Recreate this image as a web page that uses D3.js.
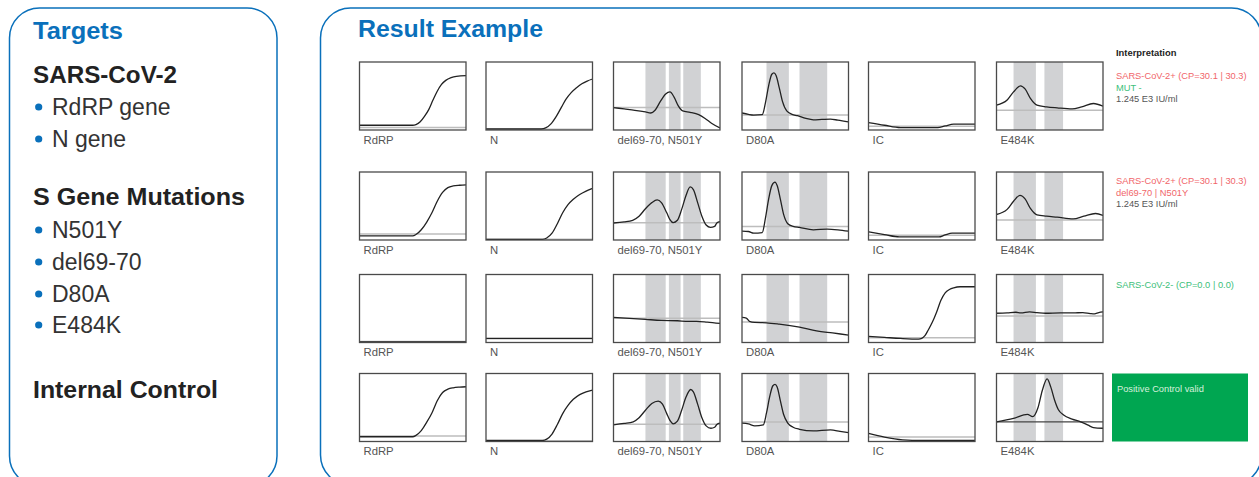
<!DOCTYPE html>
<html>
<head>
<meta charset="utf-8">
<script src="https://cdn.jsdelivr.net/npm/d3@7"></script>
<style>
  body { margin: 0; background: #fff; }
  svg { display: block; font-family: "Liberation Sans", Arial, sans-serif; }
</style>
</head>
<body>
<svg id="chart" width="1259" height="477"></svg>
<script>
// target names, one per column
const targets = ["RdRP", "N", "del69-70, N501Y", "D80A", "IC", "E484K"];

// curves per target, one per row: [x %, signal %]
const rdrpCurves = [
  [[0,7],[50,7],[53,8],[57,12],[61,20],[65,30],[69,44],[73,57],[77,67],[81,73],[86,77],[91,79],[100,80]],
  [[0,6],[50,6],[53,8],[58,15],[63,26],[68,40],[73,57],[78,70],[83,77],[88,79.5],[94,80.5],[100,81]],
  [[0,1],[100,1]],
  [[0,7],[50,7],[53,9],[58,16],[63,28],[68,42],[73,60],[78,72],[83,77],[88,79],[94,80],[100,80.5]]
];
const nCurves = [
  [[0,1.5],[52,1.5],[56,3],[61,9],[66,20],[71,34],[75,45],[80,55],[85,62],[90,68],[95,72],[100,75]],
  [[0,1],[53,1],[57,3],[62,10],[67,24],[72,40],[77,52],[82,60],[88,67],[94,72],[100,76]],
  [[0,6],[100,6]],
  [[0,1.5],[53,1.5],[57,3.5],[62,11],[67,25],[72,41],[77,53],[82,62],[88,69],[94,73],[100,75.5]]
];
const delCurves = [
  [[0,33],[10,31],[20,29],[30,26.5],[35,25],[39,29],[44,42],[49,53],[53,56],[57,48],[61,35],[65,28],[72,26],[80,22.5],[86,17],[92,10],[100,3]],
  [[0,25],[10,26.5],[18,29],[24,35],[30,46],[36,55],[41,59],[45,55],[50,40],[53,30],[56,25.5],[60,29],[64,45],[68,65],[72,78],[75,74],[79,55],[83,35],[87,22],[91,18.5],[95,20],[97,25],[100,27]],
  [[0,37],[15,35.5],[30,34],[45,32.5],[60,32],[70,31],[78,31.2],[88,30],[100,28]],
  [[0,24.5],[10,26.5],[18.5,29],[24,35],[30,46],[36,56],[42,59.5],[46,55],[50,41],[53,31],[56,26],[60,30],[64,46],[68,65],[72.5,76.5],[75,73],[79,55],[83,35],[87,23],[91.5,19.5],[95,21],[97,25],[100,27]]
];
const d80aCurves = [
  [[0,25],[6,23],[11,22],[19,22.5],[22,40],[25,65],[28,82],[30,84],[32,80],[35,62],[38,42],[42,28],[47,23],[52,21],[60,17],[67,15],[75,15.5],[83,16],[90,14.5],[100,12]],
  [[0,13],[6,12.5],[11,10],[19,11],[22,32],[25,60],[28,80],[31,85],[33,80],[36,60],[39,38],[43,24],[48,20],[54,18.5],[67,15],[80,16],[90,15],[100,13]],
  [[0,37],[4,36],[7,31],[12,29.5],[23,29],[35,27],[54,22.5],[70,17],[85,14],[100,11]],
  [[0,27],[6,26],[12,23],[20,24.5],[23,42],[26,66],[29,82],[31,84],[33,80],[36,60],[39,40],[43,27],[48,21],[54,18],[67,15.5],[83,17],[92,15],[100,13]]
];
const icCurves = [
  [[0,11],[15,7],[30,3.5],[65,3.5],[72,6],[80,8.5],[100,8.5]],
  [[0,12],[15,8],[29,4.5],[66,4.5],[72,7.5],[78.5,10],[100,10]],
  [[0,9],[15,7.5],[30,6],[47,5],[50,6],[53,10],[56,18],[60,30],[64,45],[68,62],[72,73],[76,78],[80,80.5],[86,82],[100,82]],
  [[0,12],[15,6.5],[32,2.5],[50,1.5],[100,1.5]]
];
const e484kCurves = [
  [[0,36.5],[10,44],[16,56],[22.5,65],[27,60],[32,46],[38,36.5],[47,34],[57,32.5],[71,31],[80,34],[91,39],[100,35]],
  [[0,37.5],[10,45],[16,57],[22,65.5],[27,60],[32,46],[38,37],[47,35],[57,33.5],[72,31],[82,35],[93,39],[100,36]],
  [[0,43],[10,43.5],[18,44.5],[23,43.5],[31,45],[38,44],[46,43],[60,43.5],[72,43.5],[81,44],[88,42.5],[92,42],[96,44],[100,45]],
  [[0,29],[16,34],[29,40],[34,36.5],[39,50],[43,75],[47.5,92],[51,80],[54.5,61],[58,47],[63,39],[71,33],[79,29],[86,24],[91,20.5],[100,19.5]]
];

// threshold line per target and row (signal %)
const rdrpThreshold = [3.5, 9, 1.5, 8];
const nThreshold = [1, 1, 5.5, 1];
const delThreshold = [33, 25.5, 35.5, 25.5];
const d80aThreshold = [22, 20, 30, 28.5];
const icThreshold = [5.5, 7, 7, 6.5];
const e484kThreshold = [29, 29.5, 39, 29];

// melting windows (x %)
const delBands = [[30, 49], [52, 63], [65.5, 82]];
const d80aBands = [[23, 44], [54, 80]];
const e484kBands = [[16, 37], [45, 62.5]];

// interpretation text per row
const interpretation = [
  [["SARS-CoV-2+ (CP=30.1 | 30.3)", "pos"], ["MUT -", "neg"], ["1.245 E3 IU/ml", "info"]],
  [["SARS-CoV-2+ (CP=30.1 | 30.3)", "pos"], ["del69-70 | N501Y", "pos"], ["1.245 E3 IU/ml", "info"]],
  [["SARS-CoV-2- (CP=0.0 | 0.0)", "neg"]],
  [["Positive Control valid", "valid"]]
];

const panelTargets = [
  ["Targets", "title"],
  ["SARS-CoV-2", "head"], ["RdRP gene", "item"], ["N gene", "item"],
  ["S Gene Mutations", "head"], ["N501Y", "item"], ["del69-70", "item"], ["D80A", "item"], ["E484K", "item"],
  ["Internal Control", "head"]
];

const blue = "#0a70bb";
const svg = d3.select("#chart");

// panels
svg.append("rect").attr("x", 9.5).attr("y", 8).attr("width", 267.5).attr("height", 478)
  .attr("rx", 30).attr("fill", "none").attr("stroke", blue).attr("stroke-width", 1.5);
svg.append("rect").attr("x", 320.5).attr("y", 8).attr("width", 941).attr("height", 477)
  .attr("rx", 30).attr("fill", "none").attr("stroke", blue).attr("stroke-width", 1.5);

// left panel texts (widths of the bold lines)
const leftBase = [39, 83, 115, 147, 205, 238, 270, 302, 333, 398];
const boldWidth = { "Targets": 90, "SARS-CoV-2": 144, "S Gene Mutations": 212, "Internal Control": 185 };
panelTargets.forEach(function(t, i) {
  const yy = leftBase[i];
  const item = t[1] === "item";
  if (item) {
    svg.append("circle").attr("cx", 38.7).attr("cy", yy - 8).attr("r", 3.6).attr("fill", blue);
  }
  const txt = svg.append("text")
    .attr("x", item ? 52 : 33)
    .attr("y", yy)
    .attr("font-size", item ? 23 : 23.5)
    .attr("font-weight", item ? "normal" : "bold")
    .attr("fill", t[1] === "title" ? blue : (item ? "#333" : "#222"))
    .text(t[0]);
  if (!item) txt.attr("textLength", boldWidth[t[0]]).attr("lengthAdjust", "spacingAndGlyphs");
});

svg.append("text").attr("x", 358).attr("y", 36.5).attr("font-size", 23)
  .attr("font-weight", "bold").attr("fill", blue)
  .attr("textLength", 185).attr("lengthAdjust", "spacingAndGlyphs")
  .text("Result Example");

// mini chart grid
const colX = [359.5, 486, 613.5, 742, 868.5, 996.5];
const rowY = [62, 172, 274.5, 373.5];
const boxW = 106.5, boxH = 68;

const x = d3.scaleLinear().domain([0, 100]).range([0, boxW]);
const y = d3.scaleLinear().domain([0, 100]).range([boxH, 0]);
const line = d3.line().curve(d3.curveMonotoneX).x(d => x(d[0])).y(d => y(d[1]));

const curves = [rdrpCurves, nCurves, delCurves, d80aCurves, icCurves, e484kCurves];
const thresholds = [rdrpThreshold, nThreshold, delThreshold, d80aThreshold, icThreshold, e484kThreshold];
const bands = [[], [], delBands, d80aBands, [], e484kBands];

svg.append("defs").append("clipPath").attr("id", "box")
  .append("rect").attr("width", boxW).attr("height", boxH);

rowY.forEach(function(ry, r) {
  targets.forEach(function(name, c) {
    const g = svg.append("g").attr("transform", "translate(" + colX[c] + "," + ry + ")");
    const inner = g.append("g").attr("clip-path", "url(#box)");
    inner.selectAll("rect.band").data(bands[c]).enter().append("rect")
      .attr("x", d => x(d[0])).attr("width", d => x(d[1]) - x(d[0]))
      .attr("y", 0).attr("height", boxH).attr("fill", "#d1d2d4");
    // darker threshold in the positive control E484K
    const dark = (r === 3 && c === 5);
    inner.append("line").attr("x1", 0).attr("x2", boxW)
      .attr("y1", y(thresholds[c][r])).attr("y2", y(thresholds[c][r]))
      .attr("stroke", dark ? "#444" : "#bdbdbd").attr("stroke-width", dark ? 1.2 : 1.5);
    inner.append("path").datum(curves[c][r]).attr("d", line)
      .attr("fill", "none").attr("stroke", "#222").attr("stroke-width", 1.3);
    g.append("rect").attr("width", boxW).attr("height", boxH)
      .attr("fill", "none").attr("stroke", "#4a4a4a").attr("stroke-width", 1.3);
    g.append("text").attr("x", 4).attr("y", boxH + 13.5).attr("font-size", 11.3)
      .attr("fill", "#555").text(name);
  });
});

// interpretation column
const ix = 1116;
svg.append("text").attr("x", ix).attr("y", 55.5).attr("font-size", 9.4)
  .attr("font-weight", "bold").attr("fill", "#222").text("Interpretation");

const textColor = { pos: "#f1666a", neg: "#3cc07a", info: "#555", valid: "#d7f0dc" };
const interpY = [79, 184, 288, 392];
interpretation.forEach(function(lines, r) {
  if (lines[0][1] === "valid") {
    svg.append("rect").attr("x", 1112).attr("y", rowY[r]).attr("width", 136).attr("height", boxH)
      .attr("fill", "#00a651");
  }
  lines.forEach(function(l, k) {
    svg.append("text").attr("x", l[1] === "valid" ? ix + 1 : ix).attr("y", interpY[r] + k * 11.6)
      .attr("font-size", 9.3).attr("fill", textColor[l[1]]).text(l[0]);
  });
});
</script>
</body>
</html>
